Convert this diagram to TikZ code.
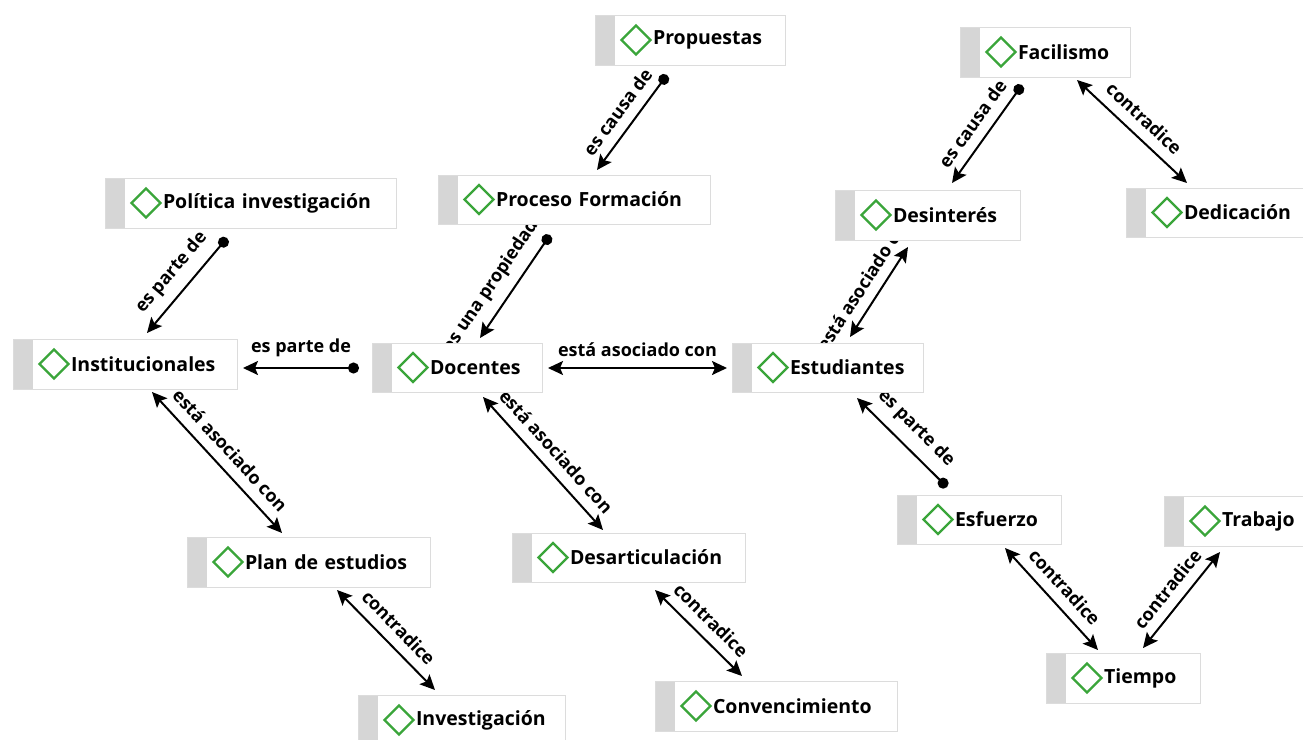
\documentclass[tikz,border=0pt]{standalone}
\usepackage{fontspec}
\setmainfont{Open Sans}
\usetikzlibrary{arrows.meta,calc}
\pgfdeclarelayer{bg}
\pgfsetlayers{bg,main}
\definecolor{stripgray}{RGB}{214,214,214}
\definecolor{boxline}{RGB}{220,220,220}
\definecolor{dgreen}{RGB}{58,165,58}
\tikzset{
  concept/.style={draw=boxline, line width=1pt, fill=white, anchor=north west,
    inner sep=0pt, outer sep=0pt, align=left,
    font=\fontsize{19.5}{21}\selectfont\bfseries,
    path picture={
      \fill[stripgray] (path picture bounding box.north west) rectangle ([xshift=20pt]path picture bounding box.south west);
      \draw[dgreen, line width=2.2pt, fill=white] ([xshift=41pt,yshift=14.5pt]path picture bounding box.west)
        -- ++(14.5pt,-14.5pt) -- ++(-14.5pt,-14.5pt) -- ++(-14.5pt,14.5pt) -- cycle;
    }},
  rel/.style={line width=2pt, black},
  isa/.style={rel, arrows={Stealth[length=15pt,width=14pt,inset=3pt]-Circle[length=11pt]}},
  both/.style={rel, arrows={Stealth[length=15pt,width=14pt,inset=3pt]-Stealth[length=15pt,width=14pt,inset=3pt]}},
  lab/.style={font=\fontsize{18}{20}\selectfont\bfseries, sloped, above=7pt, inner sep=3pt}
}
\begin{document}
\begin{tikzpicture}[x=1pt,y=-1pt]
\useasboundingbox (0,0) rectangle (1303,739);
% concepts
\node[concept, text width=190pt, minimum height=50pt] (prop) at (595,15) {\noindent\hspace*{58pt}Propuestas};
\node[concept, text width=170pt, minimum height=50pt] (fac) at (960,27) {\noindent\hspace*{58pt}Facilismo};
\node[concept, text width=291pt, minimum height=50pt] (pol) at (105,178) {\noindent\hspace*{58pt}Política investigación};
\node[concept, text width=272pt, minimum height=49pt] (proc) at (438,175) {\noindent\hspace*{58pt}Proceso Formación};
\node[concept, text width=185pt, minimum height=50pt] (desi) at (835,190) {\noindent\hspace*{58pt}Desinterés};
\node[concept, text width=185pt, minimum height=49pt] (dedi) at (1126,188) {\noindent\hspace*{58pt}Dedicación};
\node[concept, text width=224pt, minimum height=50pt] (inst) at (13,339) {\noindent\hspace*{58pt}Institucionales};
\node[concept, text width=170pt, minimum height=49pt] (doc) at (372,343) {\noindent\hspace*{58pt}Docentes};
\node[concept, text width=191pt, minimum height=49pt] (est) at (732,343) {\noindent\hspace*{58pt}Estudiantes};
\node[concept, text width=164pt, minimum height=49pt] (esf) at (897,495) {\noindent\hspace*{58pt}Esfuerzo};
\node[concept, text width=150pt, minimum height=50pt] (trab) at (1164,496) {\noindent\hspace*{58pt}Trabajo};
\node[concept, text width=243pt, minimum height=50pt] (plan) at (187,537) {\noindent\hspace*{58pt}Plan de estudios};
\node[concept, text width=233pt, minimum height=49pt] (desa) at (512,533) {\noindent\hspace*{58pt}Desarticulación};
\node[concept, text width=154pt, minimum height=50pt] (tiem) at (1046,653) {\noindent\hspace*{58pt}Tiempo};
\node[concept, text width=207pt, minimum height=50pt] (inv) at (358,695) {\noindent\hspace*{58pt}Investigación};
\node[concept, text width=242pt, minimum height=50pt] (conv) at (655,681) {\noindent\hspace*{58pt}Convencimiento};
% relations
\begin{pgfonlayer}{bg}
\fill[white] (0,0) rectangle (1303,739);
\draw[isa] ([shift={(159,-5)}]proc.north west) -- node[lab]{es causa de} ([shift={(72,10)}]prop.south west);
\draw[isa] ([shift={(117,-7)}]desi.north west) -- node[lab]{es causa de} ([shift={(62,8)}]fac.south west);
\draw[both] ([shift={(117,3)}]fac.south west) -- node[lab]{contradice} ([shift={(61,-5)}]dedi.north west);
\draw[isa] ([shift={(134,-6)}]inst.north west) -- node[lab]{es parte de} ([shift={(122,10)}]pol.south west);
\draw[isa] ([shift={(108,-5)}]doc.north west) -- node[lab]{es una propiedad de} ([shift={(112,11)}]proc.south west);
\draw[both] ([shift={(118,-6)}]est.north west) -- node[lab]{está asociado con} ([shift={(73,7)}]desi.south west);
\draw[isa] ([shift={(6,29)}]inst.north east) -- node[lab]{es parte de} ([shift={(-13,25)}]doc.north west);
\draw[both] ([shift={(6,25)}]doc.north east) -- node[lab]{está asociado con} ([shift={(-5,25)}]est.north west);
\draw[both] ([shift={(139,3)}]inst.south west) -- node[lab]{está asociado con} ([shift={(95,-4)}]plan.north west);
\draw[both] ([shift={(111,5)}]doc.south west) -- node[lab]{está asociado con} ([shift={(91,-3)}]desa.north west);
\draw[isa] ([shift={(125,6)}]est.south west) -- node[lab]{es parte de} ([shift={(50,-8)}]esf.north west);
\draw[both] ([shift={(150,3)}]plan.south west) -- node[lab]{contradice} ([shift={(77,-5)}]inv.north west);
\draw[both] ([shift={(143,8)}]desa.south west) -- node[lab]{contradice} ([shift={(87,-5)}]conv.north west);
\draw[both] ([shift={(108,4)}]esf.south west) -- node[lab]{contradice} ([shift={(52,-3)}]tiem.north west);
\draw[both] ([shift={(97,-5)}]tiem.north west) -- node[lab]{contradice} ([shift={(56,6)}]trab.south west);
\end{pgfonlayer}
\end{tikzpicture}
\end{document}
